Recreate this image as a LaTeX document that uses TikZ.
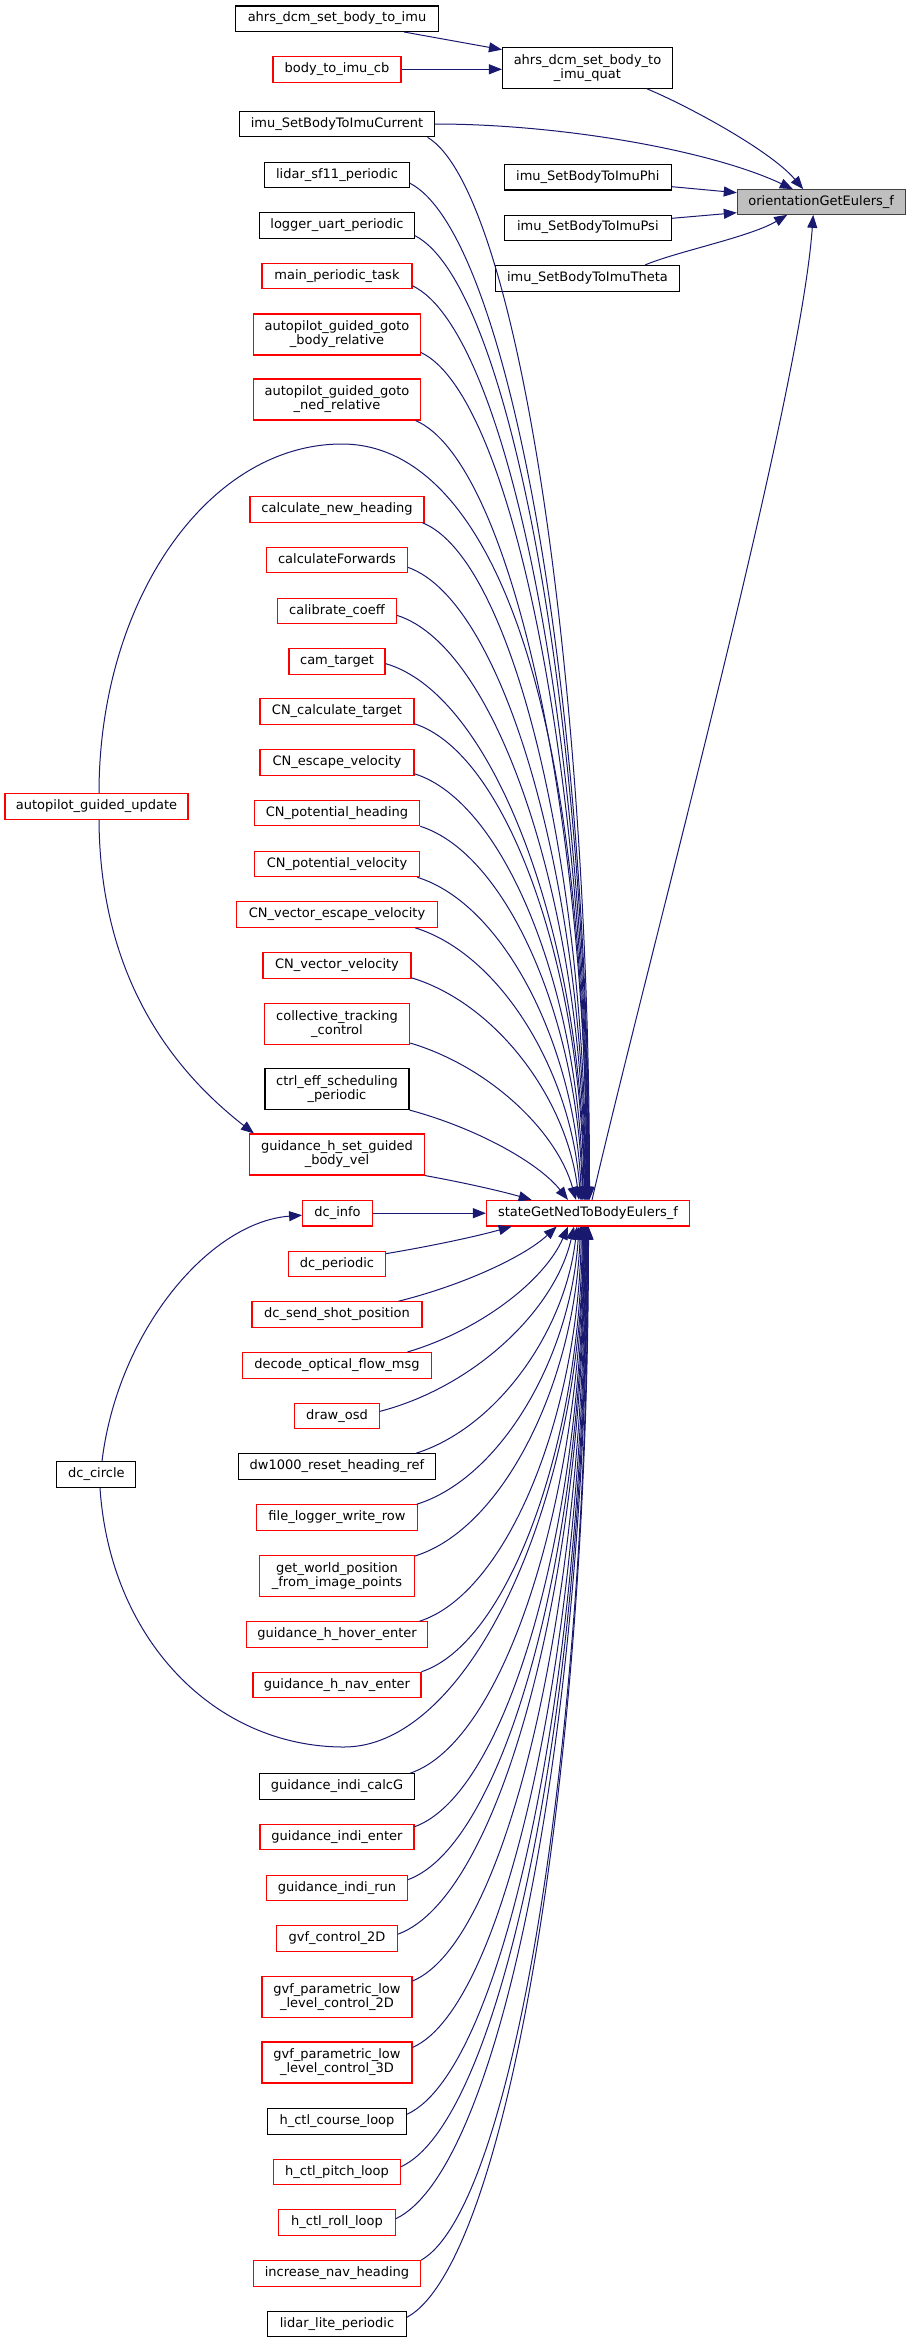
\documentclass[tikz,border=0pt]{standalone}
\usepackage{fontspec}
\setmainfont{DejaVu Sans}
\usetikzlibrary{arrows.meta,calc}
\definecolor{edgeblue}{HTML}{191970}
\definecolor{rootfill}{HTML}{BFBFBF}
\definecolor{rootdraw}{HTML}{404040}
% fan connector: #1 start coordinate, #2 end coordinate, #3 = 1 (downwards) or -1 (upwards)
\newcommand\fanedge[3]{%
  \draw[conn] let \p1=(#1), \p2=(#2),
    \n1={abs((\y1)-(\y2))}, \n2={(\x2)-(\x1)}, \n3={exp(-\n1/150)} in
    (\p1) .. controls ({(\x1)+(1-\n3)*0.55*\n2+\n3*\n2/3},{(\y1)-(#3)*((1-\n3)*0.05*\n1+\n3*\n1/3)})
    and ({(\x2)-\n3*\n2/3},{(\y2)+(#3)*((1-\n3)*0.5*\n1+\n3*\n1/3)}) .. (\p2);}
\begin{document}
\begin{tikzpicture}[x=1pt,y=-1pt,
  box/.style={line width=1.1pt, fill=white, inner sep=0pt, font=\fontsize{13}{14}\selectfont},
  one/.style={box, minimum height=25.5pt, text height=9.6pt, text depth=3.4pt},
  two/.style={box, minimum height=41pt, align=center},
  kb/.style={draw=black},
  rb/.style={draw=red},
  conn/.style={draw=edgeblue, line width=1pt, -{Triangle[length=13pt,width=10pt]}}]
\useasboundingbox (0,0) rectangle (911,2343);
\fill[white] (0,0) rectangle (911,2343);

% column 2
\node[one,kb,minimum width=203pt] (ahrs) at (337,18.7) {ahrs\_dcm\_set\_body\_to\_imu};
\node[one,rb,minimum width=128pt] (bcb) at (337,69.3) {body\_to\_imu\_cb};
\node[one,kb,minimum width=195pt] (icur) at (337,124) {imu\_SetBodyToImuCurrent};
\node[one,kb,minimum width=145pt] (lidar) at (337,175) {lidar\_sf11\_periodic};
\node[one,kb,minimum width=154.5pt] (logger) at (337,225.3) {logger\_uart\_periodic};
\node[one,rb,minimum width=150pt] (mainp) at (337,276) {main\_periodic\_task};
\node[two,rb,minimum width=167pt] (gotob) at (337,334.5) {autopilot\_guided\_goto\\\_body\_relative};
\node[two,rb,minimum width=167pt] (goton) at (337,399.5) {autopilot\_guided\_goto\\\_ned\_relative};
\node[one,rb,minimum width=174pt] (calcnew) at (337,509.5) {calculate\_new\_heading};
\node[one,rb,minimum width=140.6pt] (calcfwd) at (337,560) {calculateForwards};
\node[one,rb,minimum width=118.7pt] (calib) at (337,611) {calibrate\_coeff};
\node[one,rb,minimum width=96pt] (camt) at (337,661.3) {cam\_target};
\node[one,rb,minimum width=154pt] (cncalc) at (337,711.5) {CN\_calculate\_target};
\node[one,rb,minimum width=154pt] (cnesc) at (337,762.5) {CN\_escape\_velocity};
\node[one,rb,minimum width=165.6pt] (cnph) at (337,813) {CN\_potential\_heading};
\node[one,rb,minimum width=165.6pt] (cnpv) at (337,864) {CN\_potential\_velocity};
\node[one,rb,minimum width=201pt] (cnvesc) at (337,914.5) {CN\_vector\_escape\_velocity};
\node[one,rb,minimum width=148pt] (cnvv) at (337,965.5) {CN\_vector\_velocity};
\node[two,rb,minimum width=145.5pt] (coll) at (337,1024) {collective\_tracking\\\_control};
\node[two,kb,minimum width=144pt] (ctrl) at (337,1089) {ctrl\_eff\_scheduling\\\_periodic};
\node[two,rb,minimum width=175pt] (gset) at (337,1154.5) {guidance\_h\_set\_guided\\\_body\_vel};
\node[one,rb,minimum width=69.7pt] (dcinfo) at (337.5,1213.2) {dc\_info};
\node[one,rb,minimum width=96.3pt] (dcper) at (337,1264) {dc\_periodic};
\node[one,rb,minimum width=170pt] (dcsend) at (337,1314.5) {dc\_send\_shot\_position};
\node[one,rb,minimum width=189.7pt] (decode) at (337,1365.3) {decode\_optical\_flow\_msg};
\node[one,rb,minimum width=84.3pt] (drawosd) at (337,1416) {draw\_osd};
\node[one,kb,minimum width=197pt] (dw) at (337,1466.5) {dw1000\_reset\_heading\_ref};
\node[one,rb,minimum width=161.6pt] (flog) at (337,1517.5) {file\_logger\_write\_row};
\node[two,rb,minimum width=155pt] (getw) at (337,1576) {get\_world\_position\\\_from\_image\_points};
\node[one,rb,minimum width=181pt] (hover) at (337,1634.5) {guidance\_h\_hover\_enter};
\node[one,rb,minimum width=168pt] (nav) at (337,1685) {guidance\_h\_nav\_enter};
\node[one,kb,minimum width=155pt] (calcg) at (337,1786.5) {guidance\_indi\_calcG};
\node[one,rb,minimum width=154pt] (ienter) at (337,1837) {guidance\_indi\_enter};
\node[one,rb,minimum width=140.6pt] (irun) at (337,1888) {guidance\_indi\_run};
\node[one,rb,minimum width=120.5pt] (gvf2) at (337,1938.5) {gvf\_control\_2D};
\node[two,rb,minimum width=150pt] (gvfp2) at (337,1997) {gvf\_parametric\_low\\\_level\_control\_2D};
\node[two,rb,minimum width=150pt] (gvfp3) at (337,2062.5) {gvf\_parametric\_low\\\_level\_control\_3D};
\node[one,kb,minimum width=139pt] (course) at (337,2121.5) {h\_ctl\_course\_loop};
\node[one,rb,minimum width=127pt] (pitch) at (337,2172) {h\_ctl\_pitch\_loop};
\node[one,rb,minimum width=116.5pt] (roll) at (337,2222.5) {h\_ctl\_roll\_loop};
\node[one,rb,minimum width=167pt] (incr) at (337,2273.5) {increase\_nav\_heading};
\node[one,kb,minimum width=139pt] (lidarl) at (337,2324) {lidar\_lite\_periodic};

% column 1
\node[one,rb,minimum width=183pt] (autoupd) at (96.5,806.5) {autopilot\_guided\_update};
\node[one,kb,minimum width=79pt] (dccircle) at (96.4,1474.5) {dc\_circle};

% column 3 and 4
\node[two,kb,minimum width=170pt,minimum height=40.6pt] (quat) at (587.5,68) {ahrs\_dcm\_set\_body\_to\\\_imu\_quat};
\node[one,kb,minimum width=167.3pt] (phi) at (587.8,177.2) {imu\_SetBodyToImuPhi};
\node[one,kb,minimum width=167.3pt] (psi) at (587.8,227.8) {imu\_SetBodyToImuPsi};
\node[one,kb,minimum width=184pt] (theta) at (587.5,278.3) {imu\_SetBodyToImuTheta};
\node[one,rb,minimum width=203pt] (ned) at (588,1213.2) {stateGetNedToBodyEulers\_f};
\node[one,draw=rootdraw,fill=rootfill,minimum width=167.7pt,minimum height=24.6pt] (orient) at (821.2,202) {orientationGetEulers\_f};

% top connectors
\draw[conn] ([xshift=-35]ahrs.south east) -- ([yshift=-2.5]quat.north west);
\draw[conn] (bcb.east) -- (bcb.east -| quat.west);
\draw[conn] ([xshift=-26]quat.south east) .. controls (686,105) and (770,150) .. ([xshift=-18]orient.north);
\draw[conn] (icur.east) .. controls (560,124) and (710,150) .. ([xshift=-28.3]orient.north);
\draw[conn] ([yshift=-9.5]phi.east) -- ([yshift=9.3]orient.west);
\draw[conn] ([yshift=9.5]psi.east) -- ([yshift=-10.7]orient.west);
\draw[conn] ([xshift=-35]theta.north east) .. controls (675,252) and (750,237) .. ([xshift=-34]orient.south);
\draw[conn] ([xshift=4]ned.north) .. controls (650,950) and (800,400) .. ([xshift=-8]orient.south);

% special connectors
\draw[conn] (dcinfo.east) -- (ned.west);
\draw[conn] ([xshift=2.5]autoupd.north) .. controls (99,600.7) and (207.8,444) .. (342,444)
  .. controls (470,444) and (586,640) .. ([xshift=-1.5]ned.north);
\draw[conn] ([xshift=2.5]autoupd.south) .. controls (100,980) and (175,1072) .. ([xshift=5]gset.north west);
\draw[conn] ([xshift=5.6]dccircle.north) .. controls (118,1330) and (210,1222) .. ([yshift=-2]dcinfo.west);
\draw[conn] ([xshift=3.6]dccircle.south) .. controls (110,1640) and (215,1747) .. (344,1747)
  .. controls (470,1747) and (583,1500) .. ([xshift=-5]ned.south);

% fan into stateGetNedToBodyEulers_f from above
\foreach \nm/\sx/\sy/\dx in {icur/7.5/0/1.5, lidar/0/5/1, logger/0/3/0.5, mainp/0/3.5/0,
  gotob/0/3/-0.5, goton/5.5/0/-1, calcnew/2/0/-2, calcfwd/0/6/-2.5, calib/0/9/-3,
  camt/0/11/-3.5, cncalc/0/1/-4, cnesc/0/2/-5, cnph/0/0/-5.5, cnpv/3/0/-6.5,
  cnvesc/23/0/-7.5, cnvv/0/1/-9, coll/0/2/-12, ctrl/0/0/-20, gset/0/0/-56.3}{
  \coordinate (s) at ([xshift=-\sx,yshift=\sy]\nm.south east);
  \coordinate (t) at ([xshift=\dx]ned.north);
  \fanedge{s}{t}{1}
}
% fan into stateGetNedToBodyEulers_f from below
\foreach \nm/\sx/\sy/\dx in {dcper/0/3/-76.3, dcsend/24/0/-31.3, decode/25/0/-20,
  drawosd/0/8.7/-14, dw/20/0/-11, flog/1.5/0/-9, getw/0/1/-7.5, hover/8.5/0/-6.5,
  nav/0/0/-5.5, calcg/5/0/-4.5, ienter/0/3/-4, irun/0/5/-3.5, gvf2/0/9/-3,
  gvfp2/0/5/-2.5, gvfp3/0/6/-2, course/0/6/-1.5, pitch/0/8/-1, roll/0/9.5/-0.5,
  incr/0/0/0, lidarl/0/6.5/0.5}{
  \coordinate (s) at ([xshift=-\sx,yshift=-\sy]\nm.north east);
  \coordinate (t) at ([xshift=\dx]ned.south);
  \fanedge{s}{t}{-1}
}
\end{tikzpicture}
\end{document}
